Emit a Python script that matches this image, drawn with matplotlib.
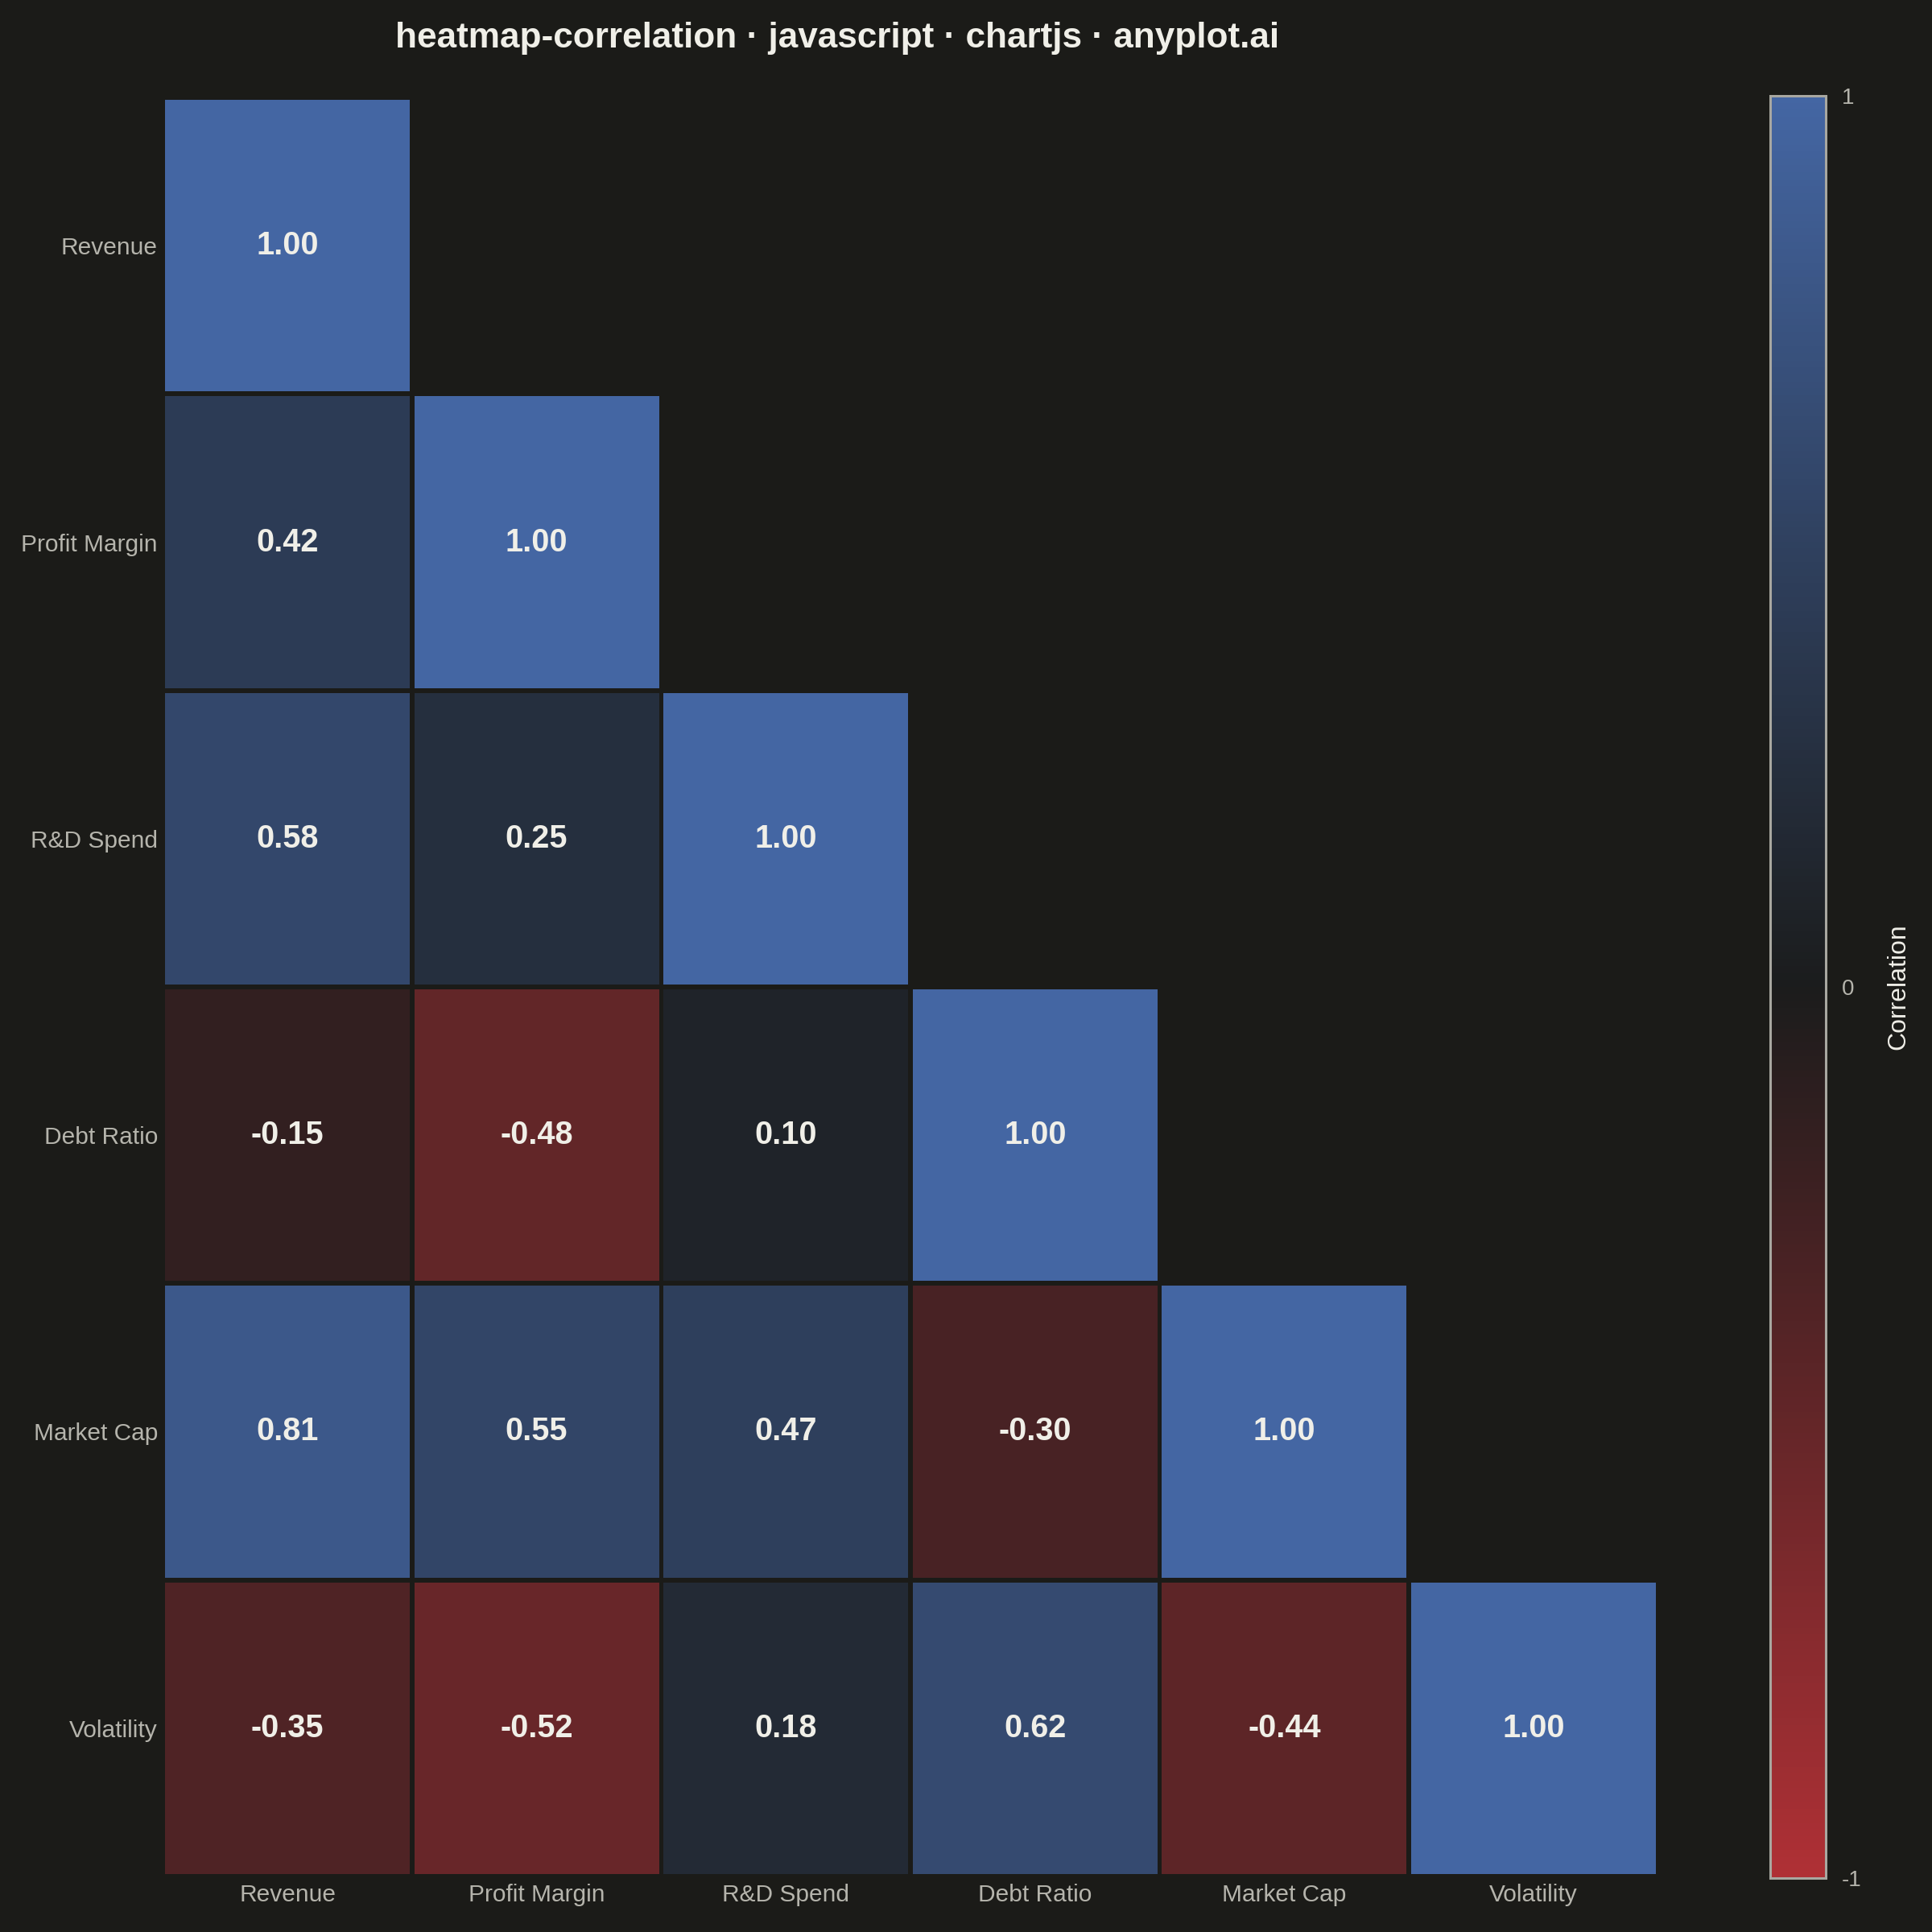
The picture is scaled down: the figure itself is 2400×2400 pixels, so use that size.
import matplotlib
matplotlib.use("Agg")
import matplotlib.pyplot as plt
import numpy as np
from matplotlib.colors import LinearSegmentedColormap, Normalize
from matplotlib.cm import ScalarMappable
from matplotlib.patches import Rectangle

# ---- data ----
labels = ["Revenue", "Profit Margin", "R&D Spend", "Debt Ratio", "Market Cap", "Volatility"]
row_revenue = [1.00]
row_profit_margin = [0.42, 1.00]
row_rd_spend = [0.58, 0.25, 1.00]
row_debt_ratio = [-0.15, -0.48, 0.10, 1.00]
row_market_cap = [0.81, 0.55, 0.47, -0.30, 1.00]
row_volatility = [-0.35, -0.52, 0.18, 0.62, -0.44, 1.00]
rows = [row_revenue, row_profit_margin, row_rd_spend, row_debt_ratio, row_market_cap, row_volatility]
cbar_ticks = [-1, 0, 1]
cbar_ticklabels = ["-1", "0", "1"]

title = "heatmap-correlation · javascript · chartjs · anyplot.ai"

# ---- style ----
plt.rcParams["font.family"] = ["Liberation Sans", "DejaVu Sans"]
plt.rcParams["axes.unicode_minus"] = False
BG = "#1b1b18"
TXT = "#f0efe8"
TICK = "#b5b4ac"
W = H = 2400.0

cmap = LinearSegmentedColormap.from_list(
    "rdbu_dark",
    [(0.0, (175/255, 48/255, 53/255)),
     (0.5, (27/255, 28/255, 28/255)),
     (1.0, (68/255, 102/255, 163/255))])
norm = Normalize(vmin=-1, vmax=1)

fig = plt.figure(figsize=(24, 24), dpi=100, facecolor=BG)

# heatmap axes
ax = fig.add_axes([205/W, 1 - 2328/H, (2057-205)/W, (2328-124)/H])
ax.set_facecolor(BG)
GX, GY = 0.018, 0.016
n = len(labels)
for i, row in enumerate(rows):
    for j, v in enumerate(row):
        ax.add_patch(Rectangle((j - 0.5 + GX/2, i - 0.5 + GY/2), 1 - GX, 1 - GY,
                               facecolor=cmap(norm(v)), edgecolor="none"))
        ax.text(j, i, f"{v:.2f}", ha="center", va="center", color=TXT,
                fontsize=28.5, fontweight="bold")
ax.set_xlim(-0.5 + GX/2, n - 0.5 - GX/2)
ax.set_ylim(n - 0.5 - GY/2, -0.5 + GY/2)
ax.set_xticks(range(n))
ax.set_xticklabels(labels)
ax.set_yticks(range(n))
ax.set_yticklabels(labels)
ax.tick_params(axis="x", length=0, pad=9, labelsize=21.5, labelcolor=TICK)
ax.tick_params(axis="y", length=0, pad=6.5, labelsize=21.5, labelcolor=TICK)
for s in ax.spines.values():
    s.set_visible(False)

# colorbar
cax = fig.add_axes([2199/W, 1 - 2333/H, (2268-2199)/W, (2333-119)/H])
sm = ScalarMappable(norm=norm, cmap=cmap)
cb = fig.colorbar(sm, cax=cax)
cb.set_ticks(cbar_ticks)
cb.set_ticklabels(cbar_ticklabels)
cb.outline.set_edgecolor("#a8a7a0")
cb.outline.set_linewidth(2.2)
cax.tick_params(length=0, pad=14, labelsize=20, labelcolor=TICK)
fig.text(2358/W, 1 - 1226/H, "Correlation", rotation=90, ha="center", va="center",
         color=TXT, fontsize=23)

fig.text(1040/W, 1 - 48/H, title, ha="center", va="center", color=TXT,
         fontsize=31.8, fontweight="bold")

fig.savefig("out.png", dpi=100, facecolor=BG)
